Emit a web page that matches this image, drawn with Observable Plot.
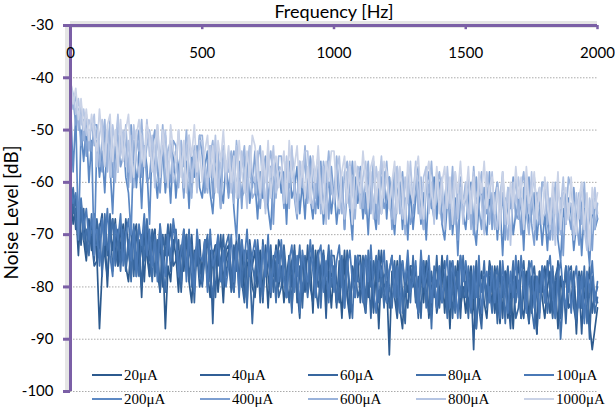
<!DOCTYPE html>
<html><head><meta charset="utf-8">
<script src="https://cdn.jsdelivr.net/npm/d3@7"></script>
<script src="https://cdn.jsdelivr.net/npm/@observablehq/plot@0.6"></script>
<style>
body{margin:0;background:#fff}
#wrap{position:relative;width:615px;height:418px;overflow:hidden;background:#fff}
#legend{position:absolute;left:92px;top:363px;display:grid;grid-template-columns:repeat(5,108px);grid-auto-rows:24px;font-family:"Liberation Serif","Times New Roman",serif;font-size:15px;color:#000}
.item{display:flex;align-items:center;white-space:nowrap}
.sw{display:inline-block;width:30px;height:2.5px;margin-right:2px}
</style></head><body><div id="wrap"></div>
<script>
const freqs = [0,10,20,30,40,50,60,70,80,90,100,110,120,130,140,150,160,170,180,190,
200,210,220,230,240,250,260,270,280,290,300,310,320,330,340,350,360,370,380,390,
400,410,420,430,440,450,460,470,480,490,500,510,520,530,540,550,560,570,580,590,
600,610,620,630,640,650,660,670,680,690,700,710,720,730,740,750,760,770,780,790,
800,810,820,830,840,850,860,870,880,890,900,910,920,930,940,950,960,970,980,990,
1000,1010,1020,1030,1040,1050,1060,1070,1080,1090,1100,1110,1120,1130,1140,1150,1160,1170,1180,1190,
1200,1210,1220,1230,1240,1250,1260,1270,1280,1290,1300,1310,1320,1330,1340,1350,1360,1370,1380,1390,
1400,1410,1420,1430,1440,1450,1460,1470,1480,1490,1500,1510,1520,1530,1540,1550,1560,1570,1580,1590,
1600,1610,1620,1630,1640,1650,1660,1670,1680,1690,1700,1710,1720,1730,1740,1750,1760,1770,1780,1790,
1800,1810,1820,1830,1840,1850,1860,1870,1880,1890,1900,1910,1920,1930,1940,1950,1960,1970,1980,1990,2000];

const seriesNames = ["20\u03bcA","40\u03bcA","60\u03bcA","80\u03bcA","100\u03bcA","200\u03bcA","400\u03bcA","600\u03bcA","800\u03bcA","1000\u03bcA"];
const seriesColors = ["#2c5a8e","#315f96","#38679f","#4170aa","#4a79b6","#5d89c4","#7d9fd1","#9ab3db","#b5c5e3","#cad3e7"];

const s20 = [-61,-68,-65,-74,-64,-71,-75,-68,-73,-66,
-74,-88,-77,-70,-80,-69,-73,-67,-76,-72,
-68,-76,-79,-72,-69,-78,-71,-82,-70,-74,
-78,-72,-69,-77,-81,-73,-88,-76,-79,-71,
-74,-81,-72,-77,-70,-79,-83,-73,-76,-71,
-79,-71,-77,-82,-74,-72,-81,-75,-83,-73,
-72,-77,-81,-73,-79,-71,-82,-76,-74,-80,
-82,-76,-73,-81,-75,-84,-74,-78,-72,-80,
-76,-83,-78,-74,-84,-75,-80,-86,-74,-79,
-79,-75,-85,-73,-80,-78,-74,-83,-77,-84,
-76,-83,-78,-86,-75,-81,-85,-77,-82,-74,
-74,-82,-85,-78,-75,-84,-77,-88,-76,-80,
-79,-93,-77,-82,-75,-84,-88,-78,-81,-76,
-76,-81,-85,-77,-83,-75,-86,-80,-78,-84,
-82,-76,-85,-78,-88,-77,-81,-75,-84,-80,
-85,-79,-76,-84,-88,-80,-77,-83,-86,-78,
-84,-76,-82,-87,-79,-77,-86,-80,-88,-78,
-79,-86,-81,-77,-87,-78,-83,-89,-77,-82,
-86,-80,-77,-85,-79,-88,-78,-82,-76,-84,
-83,-79,-89,-77,-84,-82,-78,-87,-92,-88,-84];
const s40 = [-63,-62,-69,-64,-72,-66,-74,-67,-71,-76,
-75,-69,-66,-74,-78,-70,-67,-73,-76,-68,
-75,-67,-73,-78,-70,-68,-77,-71,-79,-69,
-78,-72,-69,-77,-71,-80,-70,-74,-68,-76,
-75,-71,-81,-69,-76,-74,-70,-79,-73,-80,
-77,-71,-80,-73,-87,-72,-76,-70,-79,-75,
-73,-80,-75,-71,-81,-72,-77,-83,-71,-76,
-73,-80,-75,-83,-72,-78,-82,-74,-79,-71,
-73,-78,-82,-74,-80,-72,-83,-77,-75,-81,
-72,-80,-83,-76,-73,-82,-75,-86,-74,-78,
-77,-84,-75,-80,-73,-82,-86,-76,-79,-74,
-83,-77,-74,-82,-76,-85,-75,-79,-73,-81,
-83,-77,-74,-82,-86,-78,-75,-81,-84,-76,
-80,-76,-86,-74,-81,-79,-75,-84,-78,-85,
-82,-74,-80,-85,-77,-75,-84,-78,-86,-76,
-77,-84,-79,-92,-76,-82,-86,-78,-83,-75,
-78,-85,-80,-76,-86,-77,-82,-88,-76,-81,
-75,-83,-86,-79,-76,-85,-78,-89,-77,-81,
-76,-81,-85,-77,-83,-75,-86,-80,-78,-84,
-83,-77,-86,-79,-89,-78,-82,-76,-85,-81,-83];
const s60 = [-60,-66,-63,-70,-67,-65,-73,-70,-68,-75,
-67,-72,-76,-68,-74,-66,-77,-71,-69,-75,
-70,-77,-72,-68,-78,-69,-74,-80,-68,-73,
-75,-69,-78,-71,-81,-70,-74,-68,-77,-73,
-69,-77,-80,-73,-70,-79,-72,-83,-71,-75,
-80,-74,-71,-79,-73,-82,-72,-76,-70,-78,
-74,-81,-72,-77,-70,-79,-83,-73,-76,-87,
-77,-73,-83,-71,-78,-76,-72,-81,-75,-82,
-80,-72,-78,-83,-75,-73,-82,-76,-84,-74,
-81,-75,-72,-80,-84,-76,-73,-79,-82,-74,
-74,-79,-83,-75,-81,-73,-84,-78,-76,-82,
-80,-74,-83,-76,-86,-75,-79,-73,-82,-78,
-77,-84,-79,-75,-85,-76,-81,-87,-75,-80,
-76,-83,-78,-86,-75,-81,-85,-77,-82,-74,
-84,-78,-75,-83,-77,-86,-76,-80,-74,-82,
-79,-86,-77,-82,-75,-84,-88,-78,-81,-76,
-81,-77,-87,-75,-82,-80,-76,-85,-79,-86,
-84,-78,-75,-83,-87,-79,-76,-82,-85,-77,
-83,-75,-81,-86,-78,-76,-85,-79,-87,-77,
-76,-84,-87,-80,-77,-86,-79,-90,-78,-82,-80];
const s80 = [-64,-61,-67,-70,-65,-71,-69,-74,-66,-72,
-72,-68,-78,-66,-73,-71,-67,-76,-70,-77,
-69,-76,-71,-79,-68,-74,-78,-70,-75,-67,
-72,-79,-70,-75,-68,-77,-81,-71,-74,-69,
-70,-75,-79,-71,-77,-69,-80,-74,-72,-78,
-79,-73,-70,-78,-82,-74,-71,-77,-80,-72,
-70,-78,-81,-74,-71,-80,-73,-84,-72,-76,
-79,-71,-77,-82,-74,-72,-81,-75,-83,-73,
-79,-73,-82,-75,-85,-74,-78,-72,-81,-77,
-82,-76,-73,-81,-75,-84,-74,-78,-72,-80,
-76,-83,-78,-74,-84,-75,-80,-86,-74,-79,
-79,-75,-85,-73,-80,-78,-74,-83,-77,-84,
-75,-80,-84,-76,-82,-74,-85,-79,-77,-83,
-74,-82,-85,-78,-75,-84,-77,-88,-76,-80,
-76,-83,-78,-86,-75,-81,-85,-77,-82,-74,
-82,-76,-85,-78,-88,-77,-81,-75,-84,-80,
-85,-79,-76,-84,-78,-87,-77,-81,-75,-83,
-79,-86,-77,-82,-75,-84,-88,-78,-81,-76,
-78,-85,-80,-76,-86,-77,-90,-82,-76,-81,
-77,-82,-86,-78,-84,-76,-87,-81,-79,-85,-82];
const s100 = [-61,-64,-62,-67,-63,-69,-65,-71,-67,-70,
-69,-76,-67,-72,-65,-74,-78,-68,-71,-66,
-76,-70,-67,-75,-69,-78,-68,-72,-66,-74,
-69,-76,-71,-79,-68,-74,-78,-70,-75,-67,
-71,-78,-73,-69,-79,-70,-75,-81,-69,-74,
-75,-71,-81,-69,-76,-74,-70,-79,-73,-80,
-76,-70,-79,-72,-82,-71,-75,-69,-78,-74,
-71,-76,-80,-72,-78,-70,-81,-75,-73,-79,
-71,-79,-82,-75,-72,-81,-74,-85,-73,-77,
-79,-71,-77,-82,-74,-72,-81,-75,-83,-73,
-81,-75,-72,-80,-84,-76,-73,-79,-82,-74,
-76,-83,-74,-79,-72,-81,-85,-75,-78,-73,
-83,-77,-74,-82,-76,-85,-75,-79,-73,-81,
-79,-75,-85,-73,-80,-78,-74,-83,-77,-84,
-76,-83,-78,-74,-84,-75,-80,-86,-74,-79,
-75,-80,-84,-76,-82,-74,-85,-79,-77,-83,
-76,-83,-78,-86,-75,-81,-85,-77,-82,-74,
-82,-74,-80,-85,-77,-75,-84,-78,-86,-76,
-83,-77,-74,-82,-86,-78,-75,-81,-84,-76,
-85,-79,-76,-84,-78,-87,-77,-81,-75,-83,-79];
const s200 = [-45,-58,-47,-71,-50,-56,-49,-60,-52,-74,
-52,-59,-54,-62,-51,-57,-66,-53,-58,-50,
-51,-59,-62,-70,-52,-61,-54,-65,-53,-57,
-68,-52,-58,-63,-55,-53,-62,-56,-64,-54,
-63,-57,-54,-62,-56,-65,-55,-59,-53,-61,
-63,-57,-54,-62,-66,-58,-55,-61,-64,-56,
-62,-56,-65,-71,-58,-63,-61,-55,-64,-60,
-60,-67,-58,-63,-56,-65,-69,-59,-62,-57,
-62,-58,-68,-56,-63,-61,-57,-66,-60,-67,
-58,-63,-67,-59,-65,-57,-68,-62,-60,-66,
-61,-68,-63,-59,-69,-60,-65,-71,-59,-64,
-60,-67,-62,-70,-59,-65,-69,-61,-66,-58,
-67,-59,-65,-70,-62,-60,-69,-63,-71,-61,
-69,-63,-60,-68,-62,-71,-61,-65,-59,-67,
-60,-68,-71,-64,-61,-70,-63,-74,-62,-66,
-69,-63,-60,-68,-72,-64,-61,-67,-70,-62,
-68,-62,-71,-64,-74,-63,-67,-61,-70,-66,
-67,-63,-73,-61,-68,-66,-62,-71,-65,-72,
-66,-73,-64,-69,-62,-71,-75,-65,-68,-63,
-66,-73,-68,-64,-74,-65,-70,-76,-64,-69,-67];
const s400 = [-43,-44,-49,-46,-53,-48,-55,-50,-54,-49,
-49,-54,-58,-50,-56,-48,-59,-53,-51,-57,
-55,-51,-61,-49,-56,-54,-50,-59,-53,-60,
-59,-53,-50,-58,-62,-54,-51,-57,-60,-52,
-53,-60,-55,-63,-52,-58,-62,-54,-59,-51,
-55,-62,-57,-53,-63,-54,-59,-65,-53,-58,
-63,-57,-54,-62,-56,-65,-55,-59,-53,-61,
-54,-62,-65,-58,-55,-64,-57,-68,-56,-60,
-58,-65,-56,-61,-54,-63,-67,-57,-60,-55,
-63,-55,-61,-66,-58,-56,-65,-59,-67,-57,
-63,-57,-66,-59,-69,-58,-62,-56,-65,-61,
-57,-62,-66,-58,-64,-56,-67,-61,-59,-65,
-63,-59,-69,-57,-64,-62,-58,-67,-61,-68,
-66,-60,-57,-65,-69,-61,-58,-64,-67,-59,
-61,-68,-63,-59,-69,-60,-65,-71,-59,-64,
-60,-67,-62,-70,-59,-65,-69,-61,-66,-58,
-69,-63,-60,-68,-62,-71,-61,-65,-59,-67,
-63,-70,-61,-66,-59,-68,-72,-62,-65,-60,
-60,-68,-71,-64,-61,-70,-63,-74,-62,-66,
-69,-61,-67,-72,-64,-62,-71,-65,-73,-63,-67];
const s600 = [-42,-46,-43,-50,-45,-52,-47,-54,-48,-53,
-50,-57,-52,-48,-58,-49,-54,-60,-48,-53,
-55,-49,-58,-51,-61,-50,-54,-48,-57,-53,
-50,-55,-59,-51,-57,-49,-60,-54,-52,-58,
-54,-61,-52,-57,-50,-59,-63,-53,-56,-51,
-51,-59,-62,-55,-52,-61,-54,-65,-53,-57,
-58,-54,-64,-52,-59,-57,-53,-62,-56,-63,
-62,-56,-53,-61,-65,-57,-54,-60,-63,-55,
-55,-62,-57,-65,-54,-60,-64,-56,-61,-53,
-64,-58,-55,-63,-57,-66,-56,-60,-54,-62,
-63,-55,-61,-66,-58,-56,-65,-59,-67,-57,
-58,-65,-60,-56,-66,-57,-62,-68,-56,-61,
-56,-64,-67,-60,-57,-66,-59,-70,-58,-62,
-63,-57,-66,-59,-69,-58,-62,-56,-65,-61,
-58,-63,-67,-59,-65,-57,-68,-62,-60,-66,
-63,-59,-69,-57,-64,-62,-58,-67,-61,-68,
-62,-69,-60,-65,-58,-67,-71,-61,-64,-59,
-67,-61,-58,-66,-70,-62,-59,-65,-68,-60,
-61,-68,-63,-71,-60,-66,-70,-62,-67,-59,
-61,-66,-70,-62,-68,-60,-71,-65,-63,-69,-64];
const s800 = [-41,-43,-47,-44,-49,-46,-51,-48,-50,-47,
-57,-51,-48,-56,-50,-59,-49,-53,-47,-55,
-50,-57,-52,-60,-49,-55,-59,-51,-56,-48,
-55,-51,-61,-49,-56,-54,-50,-59,-53,-60,
-58,-50,-56,-61,-53,-51,-60,-54,-62,-52,
-52,-57,-61,-53,-59,-51,-62,-56,-54,-60,
-55,-62,-57,-53,-63,-54,-59,-65,-53,-58,
-60,-54,-63,-56,-66,-55,-59,-53,-62,-58,
-57,-64,-55,-60,-53,-62,-66,-56,-59,-54,
-54,-62,-65,-58,-55,-64,-57,-68,-56,-60,
-64,-58,-55,-63,-67,-59,-56,-62,-65,-57,
-65,-59,-56,-64,-58,-67,-57,-61,-55,-63,
-58,-65,-60,-68,-57,-63,-67,-59,-64,-56,
-64,-56,-62,-67,-59,-57,-66,-60,-68,-58,
-63,-59,-69,-57,-64,-62,-58,-67,-61,-68,
-60,-67,-62,-58,-68,-59,-64,-70,-58,-63,
-58,-66,-69,-62,-59,-68,-61,-72,-60,-64,
-59,-64,-68,-60,-66,-58,-69,-63,-61,-67,
-66,-60,-69,-62,-72,-61,-65,-59,-68,-64,
-64,-71,-62,-67,-60,-69,-73,-63,-66,-61,-66];
const s1000 = [-40,-45,-42,-48,-44,-50,-46,-52,-47,-51,
-54,-46,-52,-57,-49,-47,-56,-50,-58,-48,
-56,-50,-47,-55,-59,-51,-48,-54,-57,-49,
-51,-58,-53,-49,-59,-50,-55,-61,-49,-54,
-56,-50,-59,-52,-62,-51,-55,-49,-58,-54,
-60,-54,-51,-59,-53,-62,-52,-56,-50,-58,
-53,-60,-55,-63,-52,-58,-62,-54,-59,-51,
-53,-58,-62,-54,-60,-52,-63,-57,-55,-61,
-58,-54,-64,-52,-59,-57,-53,-62,-56,-63,
-57,-64,-55,-60,-53,-62,-66,-56,-59,-54,
-54,-62,-65,-58,-55,-64,-57,-68,-56,-60,
-62,-54,-60,-65,-57,-55,-64,-58,-66,-56,
-58,-65,-60,-56,-66,-57,-62,-68,-56,-61,
-64,-58,-55,-63,-67,-59,-56,-62,-65,-57,
-66,-60,-57,-65,-59,-68,-58,-62,-56,-64,
-63,-57,-66,-59,-69,-58,-62,-56,-65,-61,
-59,-66,-61,-69,-58,-64,-68,-60,-65,-57,
-63,-59,-69,-57,-64,-62,-58,-67,-61,-68,
-59,-64,-68,-60,-66,-58,-69,-63,-61,-67,
-59,-67,-70,-63,-60,-69,-62,-73,-61,-65,-62];

const seriesValues = [s20,s40,s60,s80,s100,s200,s400,s600,s800,s1000];
const xTicks = [0,500,1000,1500,2000];
const yTicks = [-30,-40,-50,-60,-70,-80,-90,-100];
const gridLevels = [-40,-50,-60,-70,-80,-90,-100];

const rows = [];
seriesNames.forEach((name,k)=>{
  seriesValues[k].forEach((v,i)=>{ if (i < freqs.length) rows.push({f: freqs[i], db: v, s: name}); });
});

const purple = "#7b5fa6";
const chart = Plot.plot({
  width: 615, height: 418,
  marginLeft: 70, marginRight: 18, marginTop: 25, marginBottom: 27,
  x: {domain: [0, 2000], axis: null},
  y: {domain: [-100, -30], axis: null},
  color: {domain: seriesNames, range: seriesColors},
  style: {fontFamily: "Lato, 'Open Sans', sans-serif", background: "#fff", color: "#000"},
  marks: [
    Plot.ruleY(gridLevels, {stroke: "#aaa", strokeDasharray: "1.5,1.5", strokeWidth: 1}),
    Plot.line(rows, {x: "f", y: "db", z: "s", stroke: "s", strokeWidth: 1.7}),
    Plot.ruleY([-30], {stroke: "#999", strokeOpacity: 0.25, strokeWidth: 7, dy: -1}),
    Plot.ruleX([0], {stroke: "#999", strokeOpacity: 0.25, strokeWidth: 7, dx: -2}),
    Plot.ruleX(xTicks, {x: d => d, y1: -30, y2: -30.8, stroke: purple, strokeWidth: 2.5}),
    Plot.ruleY([-30], {stroke: purple, strokeWidth: 3}),
    Plot.ruleX([0], {stroke: purple, strokeWidth: 3}),
    Plot.axisY({ticks: yTicks, tickSize: 7, tickPadding: 10, stroke: purple, strokeWidth: 3, fill: "#000", fontSize: 15, label: null, tickFormat: d => String(d)}),
    Plot.text(xTicks, {x: d => d, frameAnchor: "top", lineAnchor: "middle", dy: 28, fontSize: 15, fill: "#000", text: d => String(d)}),
    Plot.text(["Frequency [Hz]"], {frameAnchor: "top", lineAnchor: "middle", dy: -13, fontSize: 18, fill: "#000"}),
    Plot.text(["Noise Level [dB]"], {frameAnchor: "left", textAnchor: "middle", lineAnchor: "middle", dx: -59, dy: 4, rotate: -90, fontSize: 19, fill: "#000"})
  ]
});
const wrap = document.getElementById("wrap");
wrap.appendChild(chart);
const leg = document.createElement("div");
leg.id = "legend";
seriesNames.forEach((name,k)=>{
  const it = document.createElement("div");
  it.className = "item";
  const sw = document.createElement("span");
  sw.className = "sw";
  sw.style.background = seriesColors[k];
  it.appendChild(sw);
  it.appendChild(document.createTextNode(name));
  leg.appendChild(it);
});
wrap.appendChild(leg);
</script></body></html>
